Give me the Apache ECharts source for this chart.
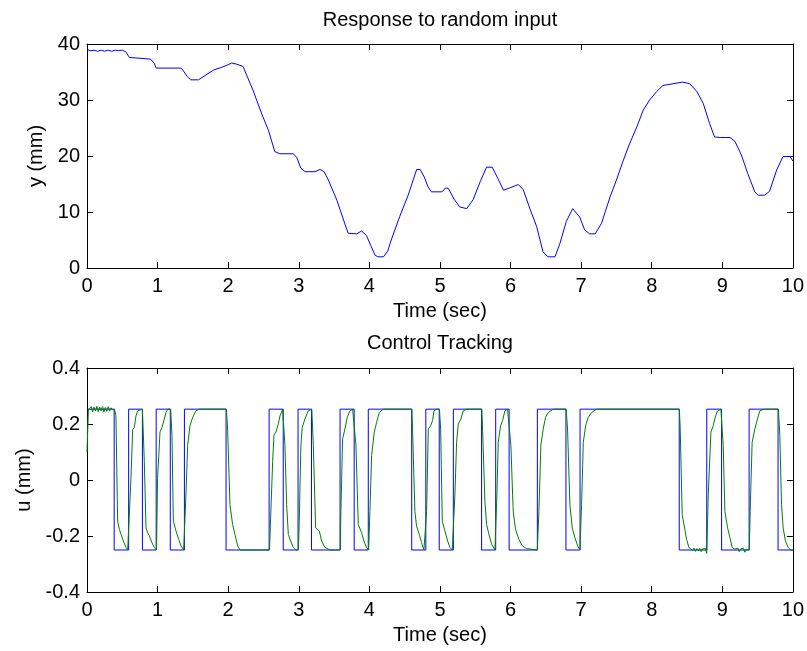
<!DOCTYPE html>
<html lang="en">

<head>
    <meta charset="UTF-8">
    <title>Response to random input</title>
    <script src="https://cdn.jsdelivr.net/npm/echarts@6.0.0/dist/echarts.min.js"></script>
    <style>
        body { margin: 0; background: #fff; }
        #main { width: 807px; height: 651px; }
    </style>
</head>

<body>
    <div id="main"></div>
    <script type="text/javascript">
        // top plot: measured position y (mm) vs time (sec)
        var yResponse = [
            [0, 39.0], [0.05, 38.8], [0.1, 38.9], [0.15, 38.7], [0.2, 38.9], [0.25, 38.7], [0.3, 38.9],
            [0.35, 38.7], [0.4, 38.9], [0.45, 38.8], [0.5, 38.9], [0.55, 38.6], [0.6, 37.6], [0.62, 37.3],
            [0.9, 37.3], [0.95, 36.6], [0.98, 35.7], [1.33, 35.7], [1.36, 35.3], [1.42, 34.2], [1.47, 33.6],
            [1.58, 33.6], [1.7, 34.6], [1.8, 35.4], [1.9, 35.8], [2.0, 36.3], [2.05, 36.6], [2.12, 36.4],
            [2.21, 36.0], [2.35, 31.8], [2.47, 27.7], [2.57, 24.6], [2.66, 20.8], [2.73, 20.4], [2.92, 20.4],
            [2.97, 19.8], [3.03, 17.8], [3.09, 17.2], [3.23, 17.2], [3.3, 17.6], [3.36, 17.2], [3.42, 15.7],
            [3.54, 12.1], [3.65, 8.0], [3.7, 6.2], [3.82, 6.1], [3.89, 6.6], [3.96, 5.8], [4.02, 4.0],
            [4.08, 2.3], [4.12, 2.0], [4.2, 2.0], [4.26, 3.0], [4.31, 5.0], [4.43, 9.2], [4.55, 13.0],
            [4.67, 17.6], [4.72, 17.6], [4.78, 16.2], [4.83, 14.5], [4.88, 13.6], [5.03, 13.6], [5.08, 14.3],
            [5.12, 14.2], [5.2, 12.3], [5.28, 10.9], [5.38, 10.6], [5.47, 12.2], [5.57, 15.4], [5.66, 18.0],
            [5.74, 18.0], [5.82, 16.0], [5.9, 13.9], [5.99, 14.3], [6.11, 14.9], [6.18, 14.0], [6.28, 10.4],
            [6.37, 7.4], [6.46, 2.9], [6.53, 2.0], [6.63, 2.0], [6.7, 4.4], [6.79, 8.3], [6.88, 10.6],
            [6.98, 9.1], [7.05, 6.8], [7.12, 6.1], [7.2, 6.1], [7.29, 8.0], [7.41, 12.7], [7.5, 15.7],
            [7.6, 19.3], [7.69, 22.3], [7.79, 25.2], [7.88, 28.2], [7.97, 30.0], [8.07, 31.5], [8.16, 32.6],
            [8.3, 32.9], [8.44, 33.2], [8.54, 32.9], [8.64, 31.5], [8.73, 29.4], [8.82, 25.8], [8.89, 23.4],
            [8.97, 23.3], [9.11, 23.3], [9.18, 22.6], [9.27, 20.2], [9.36, 16.9], [9.46, 13.6], [9.51, 13.0],
            [9.6, 13.0], [9.67, 13.7], [9.77, 17.5], [9.86, 19.9], [9.96, 19.9], [10.0, 19.1]
        ];

        // bottom plot: commanded control (square wave), switch times and levels
        var refTimes = [0, 0.385, 0.59, 0.785, 0.98, 1.18, 1.38, 1.97, 2.58, 2.78, 2.99, 3.18, 3.585, 3.785,
            3.985, 4.6, 4.8, 4.99, 5.19, 5.59, 5.79, 5.98, 6.38, 6.785, 6.985, 8.39, 8.78, 8.99, 9.38, 9.79, 10];
        var refValues = [0.253, -0.25, 0.253, -0.25, 0.253, -0.25, 0.253, -0.25, 0.253, -0.25, 0.253, -0.25,
            0.253, -0.25, 0.253, -0.25, 0.253, -0.25, 0.253, -0.25, 0.253, -0.25, 0.253, -0.25, 0.253, -0.25,
            0.253, -0.25, 0.253, -0.25, -0.25];

        // bottom plot: actual control u (mm)
        var uActual = [
            [0, 0.10], [0.02, 0.25], [0.04, 0.245], [0.06, 0.262], [0.08, 0.243], [0.1, 0.26], [0.12, 0.246],
            [0.14, 0.263], [0.16, 0.244], [0.18, 0.26], [0.2, 0.247], [0.22, 0.262], [0.24, 0.243], [0.26, 0.259],
            [0.28, 0.245], [0.3, 0.262], [0.32, 0.246], [0.34, 0.258], [0.36, 0.25], [0.39, 0.253],
            [0.41, 0.23], [0.434, -0.147], [0.458, -0.176], [0.482, -0.194], [0.515, -0.218], [0.552, -0.241], [0.576, -0.25], [0.595, -0.25],
            [0.623, 0.006], [0.647, 0.18], [0.67, 0.188], [0.694, 0.229], [0.717, 0.247], [0.741, 0.253], [0.785, 0.253],
            [0.812, 0.065], [0.836, -0.171], [0.859, -0.188], [0.883, -0.2], [0.921, -0.224], [0.953, -0.241], [0.985, -0.25],
            [1.0, 0.006], [1.034, 0.171], [1.062, 0.188], [1.095, 0.218], [1.119, 0.241], [1.143, 0.253], [1.185, 0.253],
            [1.204, 0.159], [1.223, -0.147], [1.261, -0.182], [1.299, -0.212], [1.331, -0.235], [1.369, -0.25], [1.385, -0.25],
            [1.402, -0.053], [1.426, 0.124], [1.459, 0.194], [1.497, 0.224], [1.544, 0.247], [1.591, 0.253], [1.975, 0.253],
            [1.992, 0.182], [2.025, -0.088], [2.063, -0.159], [2.096, -0.194], [2.134, -0.235], [2.167, -0.25], [2.585, -0.25],
            [2.63, 0.065], [2.649, 0.161], [2.677, 0.171], [2.71, 0.2], [2.734, 0.229], [2.771, 0.253], [2.785, 0.253],
            [2.804, 0.124], [2.828, -0.088], [2.852, -0.194], [2.885, -0.218], [2.922, -0.241], [2.96, -0.25], [2.995, -0.25],
            [3.007, -0.147], [3.03, 0.124], [3.049, 0.188], [3.087, 0.218], [3.135, 0.247], [3.159, 0.253], [3.185, 0.253],
            [3.206, 0.124], [3.239, -0.171], [3.291, -0.182], [3.324, -0.218], [3.371, -0.241], [3.442, -0.25], [3.588, -0.25],
            [3.597, -0.112], [3.621, 0.147], [3.654, 0.182], [3.687, 0.224], [3.725, 0.247], [3.763, 0.253], [3.79, 0.253],
            [3.81, 0.124], [3.843, -0.159], [3.89, -0.188], [3.923, -0.218], [3.961, -0.241], [3.99, -0.25],
            [4.008, -0.112], [4.032, 0.088], [4.07, 0.171], [4.103, 0.206], [4.141, 0.241], [4.197, 0.253], [4.602, 0.253],
            [4.612, 0.182], [4.645, -0.112], [4.669, -0.165], [4.707, -0.194], [4.74, -0.224], [4.773, -0.25], [4.8, -0.25],
            [4.811, -0.112], [4.835, 0.182], [4.868, 0.194], [4.896, 0.212], [4.915, 0.247], [4.953, 0.253], [4.993, 0.253],
            [5.01, 0.182], [5.033, -0.147], [5.071, -0.182], [5.109, -0.218], [5.142, -0.241], [5.175, -0.25], [5.19, -0.25],
            [5.212, -0.053], [5.236, 0.135], [5.26, 0.2], [5.297, 0.218], [5.33, 0.247], [5.378, 0.253], [5.593, 0.253],
            [5.604, 0.182], [5.637, -0.076], [5.661, -0.159], [5.694, -0.194], [5.732, -0.229], [5.779, -0.25], [5.79, -0.25],
            [5.807, -0.053], [5.826, 0.135], [5.859, 0.194], [5.887, 0.212], [5.92, 0.247], [5.958, 0.253], [5.98, 0.253],
            [6.005, 0.124], [6.038, -0.112], [6.071, -0.176], [6.118, -0.212], [6.166, -0.235], [6.227, -0.245], [6.38, -0.25],
            [6.402, -0.112], [6.43, 0.124], [6.463, 0.182], [6.496, 0.224], [6.534, 0.241], [6.605, 0.253], [6.788, 0.253],
            [6.808, 0.182], [6.841, -0.088], [6.874, -0.171], [6.912, -0.206], [6.95, -0.235], [6.983, -0.25],
            [7.007, -0.088], [7.031, 0.135], [7.064, 0.194], [7.101, 0.224], [7.149, 0.241], [7.219, 0.253], [8.392, 0.253],
            [8.404, 0.182], [8.432, -0.124], [8.47, -0.176], [8.494, -0.212], [8.527, -0.241], [8.555, -0.247],
            [8.58, -0.252], [8.6, -0.243], [8.62, -0.255], [8.64, -0.245], [8.66, -0.253], [8.68, -0.244], [8.7, -0.256],
            [8.72, -0.246], [8.74, -0.252], [8.76, -0.245], [8.78, -0.262],
            [8.801, -0.053], [8.839, 0.171], [8.872, 0.194], [8.905, 0.229], [8.933, 0.247], [8.98, 0.253], [8.993, 0.253],
            [9.013, 0.124], [9.037, -0.112], [9.075, -0.171], [9.108, -0.206], [9.141, -0.241], [9.178, -0.247],
            [9.2, -0.254], [9.22, -0.243], [9.24, -0.256], [9.26, -0.246], [9.28, -0.252], [9.3, -0.244], [9.32, -0.258],
            [9.34, -0.247], [9.36, -0.253], [9.383, -0.25],
            [9.395, -0.112], [9.423, 0.135], [9.461, 0.182], [9.499, 0.218], [9.532, 0.247], [9.593, 0.253], [9.795, 0.253],
            [9.815, 0.159], [9.839, -0.088], [9.862, -0.171], [9.895, -0.218], [9.933, -0.241], [9.971, -0.25], [10, -0.25]
        ];

        var fontName = 'Liberation Sans, Arial, sans-serif';
        var textSize = 20;

        function xAxisCfg(gridIndex, bottom) {
            return {
                type: 'value', gridIndex: gridIndex, min: 0, max: 10, interval: 1,
                position: bottom ? 'bottom' : 'top',
                name: bottom ? 'Time (sec)' : '', nameLocation: 'middle', nameGap: 33,
                nameTextStyle: { color: '#000', fontSize: textSize, fontFamily: fontName },
                axisLine: { show: true, onZero: false, lineStyle: { color: '#000', width: 1 } },
                axisTick: { show: true, inside: true, length: 6, lineStyle: { color: '#000' } },
                axisLabel: { show: bottom, color: '#000', fontSize: textSize, fontFamily: fontName, margin: 8 },
                splitLine: { show: false }
            };
        }

        function yAxisCfg(gridIndex, left, min, max, step, name, gap) {
            return {
                type: 'value', gridIndex: gridIndex, min: min, max: max, interval: step,
                position: left ? 'left' : 'right',
                name: left ? name : '', nameLocation: 'middle', nameGap: gap, nameRotate: 90,
                nameTextStyle: { color: '#000', fontSize: textSize, fontFamily: fontName },
                axisLine: { show: true, onZero: false, lineStyle: { color: '#000', width: 1 } },
                axisTick: { show: true, inside: true, length: 6, lineStyle: { color: '#000' } },
                axisLabel: {
                    show: left, color: '#000', fontSize: textSize, fontFamily: fontName, margin: 7,
                    formatter: function (v) { return String(+v.toFixed(1)); }
                },
                splitLine: { show: false }
            };
        }

        var chart = echarts.init(document.getElementById('main'), null, { renderer: 'canvas' });
        var option = {
            animation: false,
            backgroundColor: '#fff',
            graphic: [
                { type: 'text', x: 440, y: 20, style: { text: 'Response to random input', fill: '#000', font: textSize + 'px ' + fontName, textAlign: 'center', textVerticalAlign: 'middle' } },
                { type: 'text', x: 440, y: 343, style: { text: 'Control Tracking', fill: '#000', font: textSize + 'px ' + fontName, textAlign: 'center', textVerticalAlign: 'middle' } }
            ],
            grid: [
                { left: 87, top: 44, width: 706, height: 224 },
                { left: 87, top: 368, width: 706, height: 224 }
            ],
            xAxis: [xAxisCfg(0, true), xAxisCfg(0, false), xAxisCfg(1, true), xAxisCfg(1, false)],
            yAxis: [
                yAxisCfg(0, true, 0, 40, 10, 'y (mm)', 37),
                yAxisCfg(0, false, 0, 40, 10, '', 0),
                yAxisCfg(1, true, -0.4, 0.4, 0.2, 'u (mm)', 49),
                yAxisCfg(1, false, -0.4, 0.4, 0.2, '', 0)
            ],
            series: [
                {
                    type: 'line', xAxisIndex: 0, yAxisIndex: 0, data: yResponse, symbol: 'none',
                    lineStyle: { color: '#0000ff', width: 1 }
                },
                {
                    type: 'line', xAxisIndex: 2, yAxisIndex: 2, step: 'end', symbol: 'none',
                    data: refTimes.map(function (t, i) { return [t, refValues[i]]; }),
                    lineStyle: { color: '#0000ff', width: 1 }
                },
                {
                    type: 'line', xAxisIndex: 2, yAxisIndex: 2, data: uActual, symbol: 'none',
                    lineStyle: { color: '#008000', width: 1 }
                }
            ]
        };
        chart.setOption(option);
    </script>
</body>

</html>
